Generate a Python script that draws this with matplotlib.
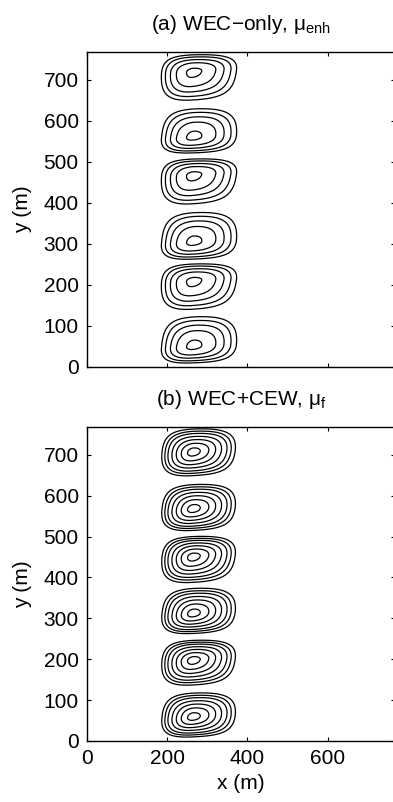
import numpy as np
import matplotlib.pyplot as plt

plt.rcParams['font.family'] = ['Liberation Sans', 'DejaVu Sans']
plt.rcParams['mathtext.fontset'] = 'custom'
plt.rcParams['mathtext.rm'] = 'Liberation Sans'

# Cell cores (m) and outer-ring reach on each side of the core (m)
a_core_x = [264, 264, 264, 264, 264, 264]
a_core_y = [720, 561, 468, 305, 210, 51]
a_reach_left = [78, 78, 78, 78, 78, 78]
a_reach_right = [108, 108, 108, 108, 108, 108]
a_reach_up = [41, 68, 39, 71, 41, 71]
a_reach_down = [69, 39, 70, 42, 69, 41]
a_rings = [1.0, 0.87, 0.71, 0.52, 0.2]

b_core_x = [264, 264, 264, 264, 264, 264]
b_core_y = [707, 568, 451, 312, 198, 59]
b_reach_left = [77, 77, 77, 77, 77, 77]
b_reach_right = [105, 105, 105, 105, 105, 105]
b_reach_up = [56, 59, 49, 61, 48, 58]
b_reach_down = [58, 53, 63, 49, 61, 49]
b_rings = [1.0, 0.9, 0.8, 0.67, 0.53, 0.37, 0.17]

x = np.linspace(0, 768, 800)
y = np.linspace(0, 768, 1000)
X, Y = np.meshgrid(x, y)

SQUARE = 0.9   # quartic weight, squares off the outer rings
TILT = 0.45    # cross term, tilts the inner rings
FS = 15


def cellField(cx, cy, rl, rr, ru, rd):
    # distance-like field, smallest at each cell core
    d = np.full(X.shape, np.inf)
    for i in range(len(cx)):
        dx = X - cx[i]
        dy = Y - cy[i]
        u = np.where(dx < 0, dx / rl[i], dx / rr[i])
        v = np.where(dy < 0, dy / rd[i], dy / ru[i])
        f = u**2 + v**2 + SQUARE * (u**4 + v**4) - TILT * u * v
        d = np.minimum(d, f)
    return d


def ringLevels(rings):
    r = np.array(sorted(rings))
    return r**2 + SQUARE * r**4


fig = plt.figure(figsize=(3.93, 8.02), dpi=100)
ax1 = fig.add_axes([0.2214, 0.5424, 0.784, 0.3928])
ax2 = fig.add_axes([0.2214, 0.0761, 0.784, 0.3915])

dA = cellField(a_core_x, a_core_y, a_reach_left, a_reach_right, a_reach_up, a_reach_down)
dB = cellField(b_core_x, b_core_y, b_reach_left, b_reach_right, b_reach_up, b_reach_down)

ax1.contour(X, Y, dA, levels=ringLevels(a_rings), colors="black", linewidths=0.9)
ax2.contour(X, Y, dB, levels=ringLevels(b_rings), colors="black", linewidths=0.9)

ax1.set_title("(a) WEC\u2212only, \u03bc$_{\\mathregular{enh}}$", fontsize=FS, pad=16)
ax2.set_title("(b) WEC+CEW, \u03bc$_{\\mathregular{f}}$", fontsize=FS, pad=16)

for ax in [ax1, ax2]:
    ax.set_xlim(0, 768)
    ax.set_ylim(0, 768)
    ax.set_xticks([0, 200, 400, 600])
    ax.set_yticks([0, 100, 200, 300, 400, 500, 600, 700])
    ax.tick_params(direction="in", length=3, width=0.8, top=True, right=True,
                   labelsize=FS, pad=6)
    ax.set_ylabel("y (m)", fontsize=FS, labelpad=8)
    for s in ax.spines.values():
        s.set_linewidth(1.0)

ax1.set_xticklabels([])
ax2.set_xlabel("x (m)", fontsize=FS, labelpad=4)

plt.savefig("out.png", dpi=100)
